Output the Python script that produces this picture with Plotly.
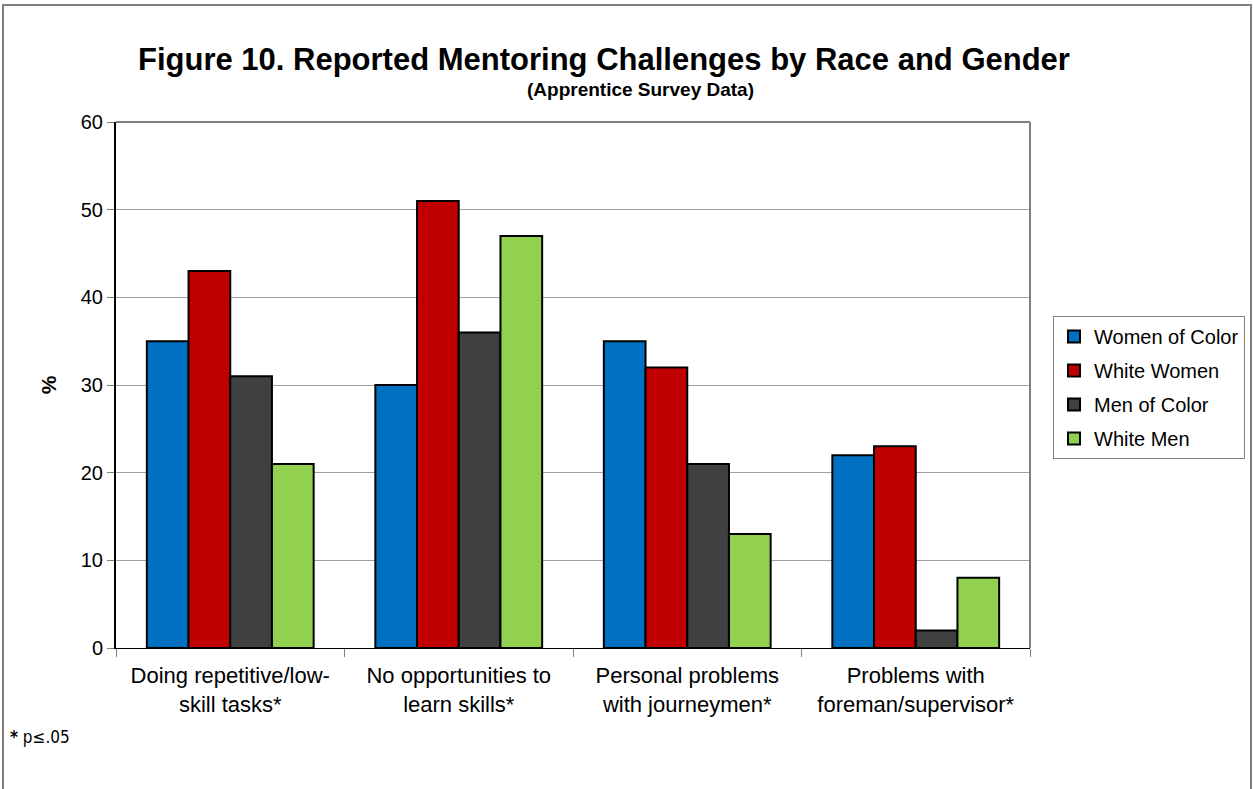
import plotly.graph_objects as go

# Survey categories (x axis) and tick labels
categories = ["Doing repetitive/low-skill tasks*", "No opportunities to learn skills*",
              "Personal problems with journeymen*", "Problems with foreman/supervisor*"]
tick_labels = ["Doing repetitive/low-<br>skill tasks*", "No opportunities to<br>learn skills*",
               "Personal problems<br>with journeymen*", "Problems with<br>foreman/supervisor*"]

# Percent reporting each challenge, by group
women_of_color = [35, 30, 35, 22]
white_women = [43, 51, 32, 23]
men_of_color = [31, 36, 21, 2]
white_men = [21, 47, 13, 8]

series = [
    ("Women of Color", women_of_color, "#0070C0"),
    ("White Women", white_women, "#C00000"),
    ("Men of Color", men_of_color, "#404040"),
    ("White Men", white_men, "#92D050"),
]

FONT = "Liberation Sans, Arial, sans-serif"

fig = go.Figure()
for name, vals, color in series:
    fig.add_trace(go.Bar(
        x=categories, y=vals, name=name, legendgroup=name,
        marker=dict(color=color, line=dict(color="black", width=2)),
    ))

# plot area geometry in pixels
W, H = 1254, 789
L, R, T, B = 116, 1030, 122, 648


def px(xp):
    return (xp - L) / (R - L)


def py(yp):
    return (B - yp) / (B - T)


fig.update_layout(
    width=W, height=H,
    margin=dict(l=L, r=W - R, t=T, b=H - B, autoexpand=False),
    paper_bgcolor="white", plot_bgcolor="white",
    barmode="group", bargap=0.27, bargroupgap=0,
    font=dict(family=FONT, size=18, color="black"),
    showlegend=True,
    legend=dict(
        x=px(1053), y=py(316), xanchor="left", yanchor="top",
        bordercolor="#808080", borderwidth=1, bgcolor="white",
        font=dict(size=20, family=FONT), tracegroupgap=5,
        itemwidth=30,
    ),
    xaxis=dict(
        tickmode="array", tickvals=categories, ticktext=tick_labels,
        tickson="boundaries", ticks="outside", ticklen=8, tickcolor="#808080",
        showline=True, linecolor="black", linewidth=1,
        tickfont=dict(size=22), showgrid=False, ticklabelstandoff=8,
    ),
    yaxis=dict(
        range=[0, 60], dtick=10, ticks="outside", ticklen=7, tickcolor="#808080",
        showline=True, linecolor="black", linewidth=2,
        gridcolor="#A0A0A0", gridwidth=1, zeroline=False,
        tickfont=dict(size=20),
        title=dict(text="<b>%</b>", font=dict(size=21), standoff=18),
    ),
    shapes=[
        # plot area top and right borders
        dict(type="line", xref="paper", yref="paper", x0=0, x1=1, y0=1, y1=1,
             line=dict(color="#808080", width=2)),
        dict(type="line", xref="paper", yref="paper", x0=1, x1=1, y0=0, y1=1,
             line=dict(color="#808080", width=2)),
        # outer chart frame
        dict(type="rect", xref="paper", yref="paper",
             x0=px(3), x1=px(1251), y0=py(800), y1=py(5),
             line=dict(color="#808080", width=2), layer="below"),
    ],
    annotations=[
        dict(text="<b>Figure 10. Reported Mentoring Challenges by Race and Gender</b>",
             xref="paper", yref="paper", x=px(604), y=py(60), xanchor="center", yanchor="middle",
             showarrow=False, font=dict(size=31, family=FONT)),
        dict(text="<b>(Apprentice Survey Data)</b>",
             xref="paper", yref="paper", x=px(640), y=py(90), xanchor="center", yanchor="middle",
             showarrow=False, font=dict(size=19, family=FONT)),
        dict(text="<b>*</b> p≤.05",
             xref="paper", yref="paper", x=px(8), y=py(737), xanchor="left", yanchor="middle",
             showarrow=False, font=dict(size=17, family="DejaVu Sans Condensed, DejaVu Sans")),
    ],
)

fig.write_html("out.html")
